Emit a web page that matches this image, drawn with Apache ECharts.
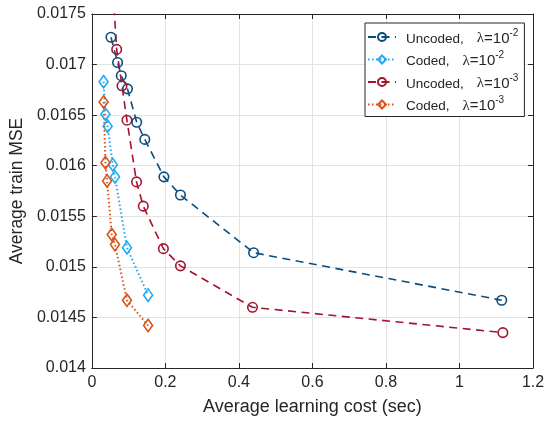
<!DOCTYPE html>
<html><head><meta charset="utf-8">
<script src="https://cdn.jsdelivr.net/npm/echarts@6/dist/echarts.min.js"></script>
<style>html,body{margin:0;padding:0;background:#fff}#c{width:548px;height:423px}</style>
</head><body><div id="c"></div>
<script>
// Data
const seriesNames = ['Uncoded, λ=10^-2', 'Coded, λ=10^-2', 'Uncoded, λ=10^-3', 'Coded, λ=10^-3'];
const uncoded2X = [0.052, 0.070, 0.080, 0.097, 0.122, 0.144, 0.196, 0.241, 0.440, 1.115];
const uncoded2Y = [0.01727, 0.01702, 0.01689, 0.01676, 0.01643, 0.01626, 0.01589, 0.01571, 0.01514, 0.01467];
const coded2X = [0.032, 0.037, 0.043, 0.057, 0.063, 0.0955, 0.153];
const coded2Y = [0.01683, 0.01651, 0.01639, 0.01601, 0.01589, 0.01519, 0.01472];
const uncoded3X = [0.058, 0.0676, 0.082, 0.0955, 0.1216, 0.140, 0.1946, 0.241, 0.437, 1.118];
const uncoded3Y = [0.01770, 0.01715, 0.01679, 0.01645, 0.01584, 0.01560, 0.01518, 0.01501, 0.01460, 0.01435];
const coded3X = [0.032, 0.037, 0.0414, 0.054, 0.063, 0.0955, 0.153];
const coded3Y = [0.01663, 0.01603, 0.01585, 0.01532, 0.01522, 0.01467, 0.01442];
const xTicks = [0, 0.2, 0.4, 0.6, 0.8, 1, 1.2];
const yTicks = [0.014, 0.0145, 0.015, 0.0155, 0.016, 0.0165, 0.017, 0.0175];

const zip = (a, b) => a.map((v, i) => [v, b[i]]);
const FONT = 'Liberation Sans, Arial, sans-serif';
const AX = '#262626';

function mkSeries(name, xs, ys, color, symbol, dash) {
  const isCircle = symbol === 'circle';
  return {
    name, type: 'line', data: zip(xs, ys), xAxisIndex: 0, yAxisIndex: 0,
    symbol, symbolSize: isCircle ? 9.5 : [9, 12.5],
    clip: true,
    itemStyle: { color: 'rgba(255,255,255,0)', borderColor: color, borderWidth: 1.6 },
    lineStyle: { color, width: dash === 'dot' ? 2 : 1.6, type: dash === 'dot' ? [1.5, 2.5] : [8, 5.5] },
    emphasis: { disabled: true }, z: 3
  };
}

const chart = echarts.init(document.getElementById('c'), null, { renderer: 'canvas' });
chart.setOption({
  animation: false,
  backgroundColor: '#fff',
  textStyle: { fontFamily: FONT },
  grid: { left: 89, right: 15, top: 14, bottom: 55, containLabel: false },
  xAxis: [
    {
      type: 'value', min: xTicks[0], max: xTicks[xTicks.length - 1], interval: 0.2, position: 'bottom',
      name: 'Average learning cost (sec)', nameLocation: 'middle', nameGap: 30,
      nameTextStyle: { fontSize: 18, color: AX, fontFamily: FONT },
      axisLine: { show: true, onZero: false, lineStyle: { color: AX, width: 1 } },
      axisTick: { show: true, inside: true, length: 5, lineStyle: { color: AX } },
      axisLabel: { fontSize: 16, color: AX, margin: 7, fontFamily: FONT, formatter: v => String(+v.toFixed(2)) },
      splitLine: { show: true, lineStyle: { color: '#e3e3e3', width: 1 } }
    },
    {
      type: 'value', min: xTicks[0], max: xTicks[xTicks.length - 1], interval: 0.2, position: 'top',
      axisLine: { show: true, onZero: false, lineStyle: { color: AX, width: 1 } },
      axisTick: { show: true, inside: true, length: 5, lineStyle: { color: AX } },
      axisLabel: { show: false }, splitLine: { show: false }
    }
  ],
  yAxis: [
    {
      type: 'value', min: yTicks[0], max: yTicks[yTicks.length - 1], interval: 0.0005, position: 'left',
      name: 'Average train MSE', nameLocation: 'middle', nameGap: 60,
      nameTextStyle: { fontSize: 17.5, color: AX, fontFamily: FONT },
      axisLine: { show: true, onZero: false, lineStyle: { color: AX, width: 1 } },
      axisTick: { show: true, inside: true, length: 5, lineStyle: { color: AX } },
      axisLabel: { fontSize: 16, color: AX, margin: 6, fontFamily: FONT, formatter: v => String(+v.toFixed(4)) },
      splitLine: { show: true, lineStyle: { color: '#e3e3e3', width: 1 } }
    },
    {
      type: 'value', min: yTicks[0], max: yTicks[yTicks.length - 1], interval: 0.0005, position: 'right',
      axisLine: { show: true, onZero: false, lineStyle: { color: AX, width: 1 } },
      axisTick: { show: true, inside: true, length: 5, lineStyle: { color: AX } },
      axisLabel: { show: false }, splitLine: { show: false }
    }
  ],
  legend: {
    orient: 'vertical', left: 365, top: 23,
    data: seriesNames,
    backgroundColor: '#fff', borderColor: AX, borderWidth: 1,
    padding: [5, 6, 3, 2], itemGap: 4.5, itemWidth: 28, itemHeight: 10,
    formatter: name => {
      const m = name.match(/^(.*), λ=10\^(-\d)$/);
      return '{t|' + m[1] + ',}{g|λ}{e|=10}{s|' + m[2] + '}';
    },
    textStyle: {
      fontFamily: FONT, color: AX,
      rich: {
        t: { fontSize: 13.5, fontFamily: FONT, color: AX, lineHeight: 18, verticalAlign: 'bottom', padding: [0, 0, 0, 5] },
        g: { fontSize: 15, fontFamily: 'Liberation Serif, DejaVu Serif, serif', color: AX, lineHeight: 18, verticalAlign: 'bottom', padding: [0, 0, 0, 13] },
        e: { fontSize: 15, fontFamily: FONT, color: AX, lineHeight: 18, verticalAlign: 'bottom' },
        s: { fontSize: 10, fontFamily: FONT, color: AX, lineHeight: 18, verticalAlign: 'top' }
      }
    }
  },
  series: [
    mkSeries(seriesNames[0], uncoded2X, uncoded2Y, '#0b4d7d', 'circle', 'dash'),
    mkSeries(seriesNames[1], coded2X, coded2Y, '#1fa9f5', 'diamond', 'dot'),
    mkSeries(seriesNames[2], uncoded3X, uncoded3Y, '#a2142f', 'circle', 'dash'),
    mkSeries(seriesNames[3], coded3X, coded3Y, '#d95319', 'diamond', 'dot')
  ]
});
</script></body></html>
